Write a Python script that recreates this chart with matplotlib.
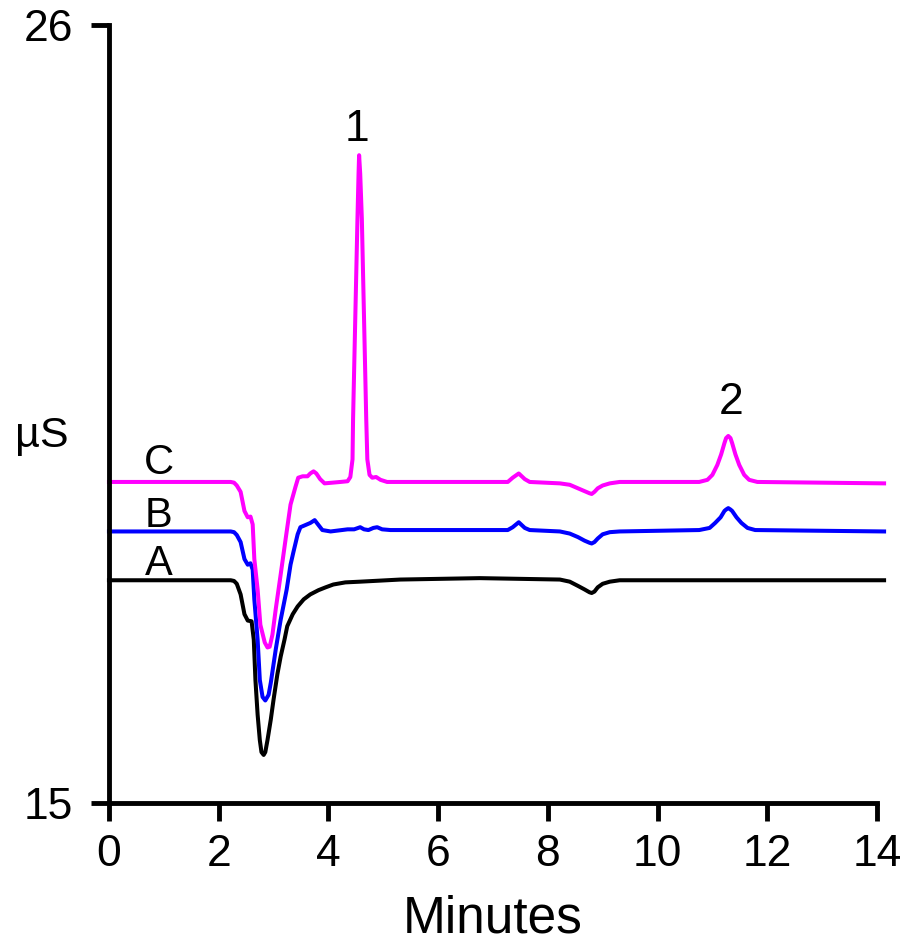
import numpy as np
import matplotlib
matplotlib.use('Agg')
import matplotlib.pyplot as plt

plt.rcParams['font.family'] = ['Liberation Sans', 'DejaVu Sans']

# trace A (black) - time in minutes, conductivity in uS
t_a = [0.0, 2.22, 2.28, 2.33, 2.40, 2.47, 2.53, 2.60, 2.64, 2.67, 2.71, 2.75, 2.78, 2.82,
       2.85, 2.89, 2.95, 3.00, 3.07, 3.13, 3.20, 3.25, 3.35, 3.44, 3.55, 3.67, 3.82,
       3.95, 4.09, 4.31, 4.58, 5.31, 6.76, 8.22, 8.40, 8.55, 8.67, 8.76, 8.80, 8.85,
       8.91, 9.00, 9.13, 9.31, 14.13]
s_a = [18.15, 18.15, 18.14, 18.10, 17.95, 17.67, 17.58, 17.57, 17.31, 16.74, 16.25, 15.89, 15.72, 15.68,
       15.72, 15.89, 16.18, 16.46, 16.82, 17.07, 17.31, 17.50, 17.67, 17.78, 17.88, 17.95, 18.01,
       18.05, 18.09, 18.12, 18.13, 18.16, 18.18, 18.16, 18.13, 18.07, 18.02, 17.98, 17.97, 17.99,
       18.05, 18.10, 18.13, 18.15, 18.15]

# trace B (blue)
t_b = [0.0, 2.22, 2.28, 2.33, 2.40, 2.47, 2.53, 2.58, 2.62, 2.65, 2.71, 2.75, 2.80, 2.85,
       2.91, 2.95, 3.04, 3.13, 3.24, 3.31, 3.36, 3.44, 3.49, 3.58, 3.67, 3.75, 3.82,
       3.89, 4.04, 4.35, 4.47, 4.58, 4.65, 4.73, 4.82, 4.89, 4.98, 5.13, 7.27, 7.36,
       7.47, 7.58, 7.67, 8.22, 8.40, 8.55, 8.67, 8.76, 8.80, 8.85, 8.91, 9.00, 9.13, 9.31,
       10.76, 10.95, 11.05, 11.15, 11.22, 11.25, 11.29, 11.33, 11.36, 11.44, 11.53, 11.64,
       11.78, 14.13]
s_b = [18.84, 18.84, 18.83, 18.79, 18.69, 18.45, 18.37, 18.39, 18.30, 17.88, 17.31, 16.74, 16.50, 16.45,
       16.53, 16.70, 17.17, 17.59, 18.02, 18.37, 18.54, 18.80, 18.90, 18.93, 18.96, 19.00, 18.93,
       18.86, 18.84, 18.87, 18.87, 18.90, 18.87, 18.86, 18.89, 18.90, 18.87, 18.86, 18.86, 18.90,
       18.97, 18.89, 18.86, 18.84, 18.81, 18.76, 18.71, 18.68, 18.67, 18.69, 18.74, 18.80, 18.83, 18.84,
       18.86, 18.89, 18.96, 19.04, 19.13, 19.15, 19.17, 19.15, 19.13, 19.04, 18.96, 18.89,
       18.86, 18.84]

# trace C (magenta)
t_c = [0.0, 2.22, 2.28, 2.33, 2.40, 2.47, 2.53, 2.58, 2.62, 2.65, 2.71, 2.76, 2.84, 2.89,
       2.93, 2.98, 3.04, 3.13, 3.22, 3.31, 3.40, 3.45, 3.53, 3.62, 3.67, 3.73, 3.78,
       3.85, 3.93, 4.22, 4.35, 4.40, 4.44, 4.45, 4.49, 4.53, 4.55, 4.56, 4.58, 4.61,
       4.65, 4.69, 4.71, 4.75, 4.80, 4.87, 4.95, 5.07, 7.27, 7.36, 7.47, 7.58, 7.67,
       8.22, 8.40, 8.55, 8.67, 8.76, 8.80, 8.85, 8.91, 9.00, 9.13, 9.31, 10.76, 10.91,
       11.00, 11.09, 11.16, 11.22, 11.25, 11.29, 11.33, 11.36, 11.42, 11.49, 11.58, 11.67,
       11.82, 14.13]
s_c = [19.54, 19.54, 19.53, 19.49, 19.40, 19.13, 19.04, 19.05, 18.94, 18.45, 18.02, 17.52, 17.27, 17.20,
       17.21, 17.38, 17.74, 18.23, 18.73, 19.22, 19.47, 19.60, 19.62, 19.62, 19.66, 19.69, 19.66,
       19.58, 19.52, 19.54, 19.55, 19.61, 19.86, 20.43, 21.85, 23.26, 23.90, 24.16, 23.90, 23.26,
       21.85, 20.43, 19.86, 19.64, 19.60, 19.61, 19.57, 19.54, 19.54, 19.60, 19.66, 19.58, 19.54,
       19.52, 19.50, 19.45, 19.41, 19.38, 19.37, 19.40, 19.45, 19.49, 19.52, 19.54, 19.54, 19.57,
       19.64, 19.78, 19.93, 20.09, 20.16, 20.19, 20.16, 20.09, 19.93, 19.78, 19.64, 19.57,
       19.54, 19.52]

trace_names = ['A', 'B', 'C']
trace_label_y = [18.23, 18.90, 19.65]
peak_names = ['1', '2']
peak_pos = [4.52, 11.35]
peak_label_y = [24.36, 20.50]

fig = plt.figure(figsize=(9.08, 9.5), dpi=100)
ax = fig.add_axes([0.12, 0.1547, 0.8458, 0.8189])

ax.plot(t_a, s_a, color='black', lw=2.9, clip_on=False, solid_joinstyle='round')
ax.plot(t_b, s_b, color='#0000FF', lw=2.9, clip_on=False, solid_joinstyle='round')
ax.plot(t_c, s_c, color='#FF00FF', lw=2.9, clip_on=False, solid_joinstyle='round')

for name, y in zip(trace_names, trace_label_y):
    ax.text(0.91, y, name, fontsize=30, ha='center', va='baseline')
for name, x, y in zip(peak_names, peak_pos, peak_label_y):
    ax.text(x, y, name, fontsize=32, ha='center', va='baseline')

ax.set_xlim(0, 14)
ax.set_ylim(15, 26)
ax.set_xticks(np.arange(0, 15, 2))
ax.set_yticks([15, 26])
ax.spines['top'].set_visible(False)
ax.spines['right'].set_visible(False)
for sp in ['left', 'bottom']:
    ax.spines[sp].set_linewidth(3.5)
ax.tick_params(axis='both', direction='out', length=13, width=3.5, labelsize=32)
ax.tick_params(axis='x', pad=9.5)
ax.tick_params(axis='y', pad=13)

ax.set_xlabel('Minutes', fontsize=37, labelpad=14)
ax.set_ylabel('µS', fontsize=31, rotation=0, ha='center', va='baseline')
ax.yaxis.set_label_coords(-0.087, 0.458)

fig.savefig('out.png', dpi=100)
